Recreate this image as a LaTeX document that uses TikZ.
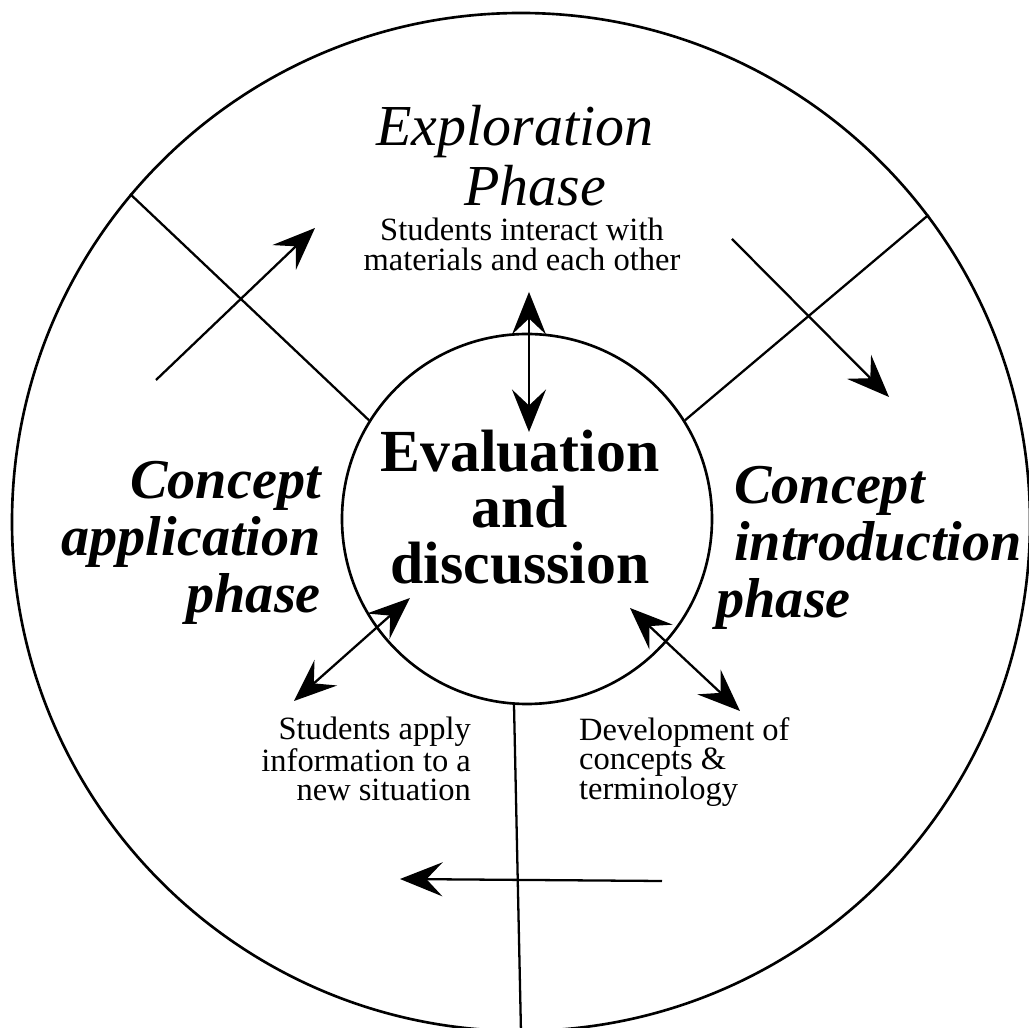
\documentclass[tikz,border=0pt]{standalone}
\usepackage{fontspec}
\setmainfont{Liberation Serif}
\usetikzlibrary{arrows.meta}

\begin{document}
\begin{tikzpicture}[line width=1.3pt,
                    >={Stealth[length=8.5mm,width=6.8mm,inset=3.2mm]},
                    ring/.style={draw,circle,inner sep=0pt,line width=1.5pt},
                    title/.style={inner sep=0pt,align=center,
                      font=\fontsize{33}{34}\selectfont\itshape},
                    phase/.style={inner sep=0pt,
                      font=\fontsize{32}{32.5}\selectfont\bfseries\itshape},
                    hubtext/.style={inner sep=0pt,align=center,
                      font=\fontsize{34}{32}\selectfont\bfseries},
                    note/.style={inner sep=0pt,font=\fontsize{18.5}{17}\selectfont}]
   \useasboundingbox (-10.42,-10.12) rectangle (10.16,10.44);

   % the two circles
   \node[ring,minimum size=20.36cm] (rim) at (0,0) {};
   \node[ring,minimum size=7.4cm] (hub) at (0.12,0.06) {};

   % spokes between the phases
   \draw (hub.148) -- (rim.140.4);
   \draw (hub.32) -- (rim.37);
   \draw (hub.266) -- (rim.270);

   % texts
   \node[hubtext] (evaluation) at (-0.02,0.30) {Evaluation\\and\\discussion};
   \node[title] (exploration) at (-0.12,7.32) {Exploration\\\hspace*{0.8cm}Phase};
   \node[note,align=center] (interact) at (0.02,5.56)
        {Students interact with\\materials and each other};
   \node[phase,align=right,anchor=east] (application) at (-3.98,-0.42)
        {Concept\\application\\phase};
   \node[phase,align=left,anchor=west] (introduction) at (4.24,-0.52)
        {Concept\\introduction\\\hspace*{-10pt}phase};
   \node[note,align=right,anchor=east] (applyinfo) at (-0.98,-4.74)
        {Students apply\\information to a\\new situation};
   \node[note,align=left,anchor=west] (development) at (1.14,-4.80)
        {Development of\\concepts \&\\terminology};

   % arrow ends
   \coordinate (cycA) at (-7.30,2.84);  \coordinate (cycB) at (-4.12,5.88);
   \coordinate (cycC) at (4.22,5.66);   \coordinate (cycD) at (7.36,2.50);
   \coordinate (cycE) at (2.82,-7.18);  \coordinate (cycF) at (-2.42,-7.14);
   \coordinate (upA) at (0.16,4.60);    \coordinate (upB) at (0.16,1.80);
   \coordinate (leftA) at (-2.22,-1.52); \coordinate (leftB) at (-4.54,-3.58);
   \coordinate (rightA) at (2.18,-1.72); \coordinate (rightB) at (4.38,-3.78);

   % the cycle round the rim
   \draw[->] (cycA) -- (cycB);
   \draw[->] (cycC) -- (cycD);
   \draw[->] (cycE) -- (cycF);

   % links to the hub
   \draw[<->] (upA) -- (upB);
   \draw[<->] (leftA) -- (leftB);
   \draw[<->] (rightA) -- (rightB);
\end{tikzpicture}
\end{document}
